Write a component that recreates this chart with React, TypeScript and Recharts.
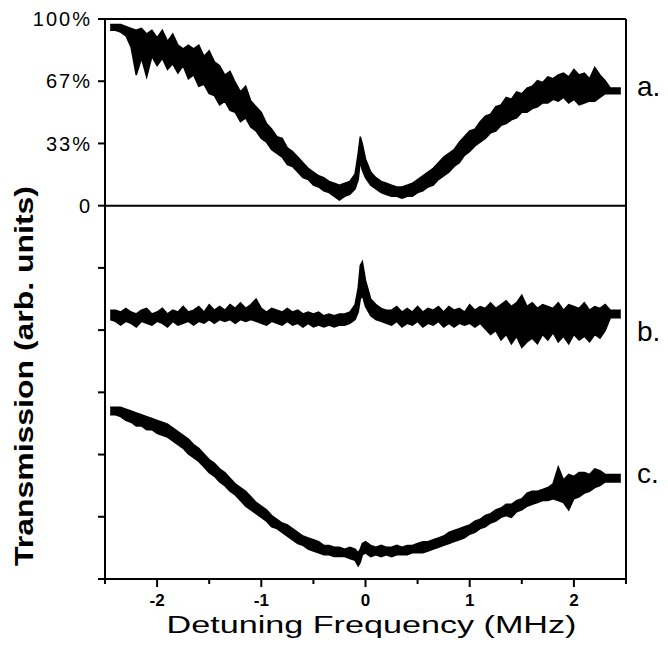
import React from "react";
import { ComposedChart, Area, XAxis, YAxis, ReferenceLine, ReferenceDot, Label } from "recharts";

// detuning grid (MHz), finer around the narrow resonance
const freq = [
  -2.45, -2.4, -2.35, -2.3, -2.25, -2.2, -2.15, -2.1, -2.05, -2, -1.95, -1.9, -1.85, -1.8, -1.75, -1.7, -1.65,
  -1.6, -1.55, -1.5, -1.45, -1.4, -1.35, -1.3, -1.25, -1.2, -1.15, -1.1, -1.05, -1, -0.95, -0.9, -0.85, -0.8,
  -0.75, -0.7, -0.65, -0.6, -0.55, -0.5, -0.45, -0.4, -0.35, -0.3, -0.25, -0.2, -0.15, -0.1, -0.07, -0.05, -0.03,
  0, 0.05, 0.1, 0.15, 0.2, 0.25, 0.3, 0.35, 0.4, 0.45, 0.5, 0.55, 0.6, 0.65, 0.7, 0.75, 0.8, 0.85, 0.9, 0.95, 1,
  1.05, 1.1, 1.15, 1.2, 1.25, 1.3, 1.35, 1.4, 1.45, 1.5, 1.55, 1.6, 1.65, 1.7, 1.75, 1.8, 1.85, 1.9, 1.95, 2,
  2.05, 2.1, 2.15, 2.2, 2.25, 2.3, 2.35, 2.4, 2.45,
];

// trace a. in % transmission: lower / upper edge of the noisy band
const aLow = [
  94, 94, 93, 91, 85, 70, 79, 69, 80, 75, 79, 73, 76, 71, 75, 68, 70, 64, 65, 60, 59, 54, 56, 51, 50, 45, 47, 42,
  40, 36, 34, 30, 28, 26, 22, 21, 18, 15, 14, 11, 10, 8, 7, 5, 3, 5, 6, 9, 14, 24, 19, 15, 11, 9, 7, 6, 5, 5, 4,
  5, 5, 7, 8, 10, 11, 14, 16, 18, 21, 23, 27, 29, 32, 34, 36, 39, 40, 43, 44, 46, 47, 50, 50, 52, 53, 55, 55, 57,
  56, 58, 55, 57, 54, 55, 56, 56, 58, 60, 60, 60, 60,
];
const aHigh = [
  97, 97, 97, 96, 95, 94, 95, 92, 94, 90, 94, 88, 92, 86, 84, 86, 84, 86, 80, 83, 77, 75, 70, 72, 66, 61, 64, 56,
  53, 50, 44, 41, 37, 36, 31, 29, 26, 23, 20, 18, 16, 15, 13, 12, 11, 12, 13, 17, 28, 37, 33, 25, 18, 15, 13, 12,
  11, 10, 10, 11, 12, 14, 16, 18, 20, 23, 26, 28, 30, 34, 37, 40, 41, 45, 48, 49, 53, 54, 58, 57, 61, 60, 63, 64,
  67, 66, 69, 68, 70, 71, 69, 73, 70, 71, 68, 74, 70, 67, 63, 63, 63,
];

// trace b. (arb. units)
const bLow = [
  139, 138, 136, 138, 137, 135, 138, 137, 136, 138, 137, 135, 138, 136, 137, 138, 136, 138, 137, 139, 137, 139,
  138, 139, 137, 139, 138, 139, 138, 137, 136, 138, 137, 136, 138, 136, 137, 135, 137, 135, 136, 135, 136, 135,
  136, 136, 137, 139, 143, 150, 152, 146, 141, 139, 138, 137, 136, 138, 135, 137, 136, 138, 135, 137, 136, 138,
  135, 137, 135, 137, 136, 137, 135, 137, 134, 131, 133, 128, 131, 126, 130, 124, 127, 129, 126, 131, 128, 132,
  127, 130, 126, 131, 128, 130, 127, 131, 129, 133, 140, 140, 140,
];
const bHigh = [
  144, 144, 143, 145, 143, 142, 144, 145, 142, 143, 145, 142, 144, 143, 146, 143, 144, 146, 143, 147, 144, 146,
  144, 147, 145, 148, 145, 147, 150, 145, 143, 145, 144, 143, 145, 143, 144, 142, 143, 142, 143, 141, 142, 141,
  142, 142, 143, 147, 156, 168, 170, 160, 150, 147, 145, 144, 144, 146, 143, 145, 143, 146, 143, 145, 144, 146,
  143, 146, 144, 145, 143, 147, 144, 146, 145, 148, 145, 147, 149, 146, 148, 152, 146, 148, 145, 147, 146, 145,
  148, 144, 147, 146, 145, 148, 144, 146, 145, 147, 144, 144, 144,
];

// trace c. (arb. units)
const cLow = [
  88, 88, 87, 85, 84, 82, 82, 80, 80, 78, 77, 76, 74, 72, 70, 67, 65, 63, 60, 57, 55, 52, 50, 47, 45, 42, 39, 37,
  35, 33, 31, 28, 27, 25, 23, 21, 19, 18, 16, 15, 14, 13, 13, 12, 12, 12, 11, 10, 7, 9, 13, 14, 12, 13, 12, 13,
  12, 13, 13, 13, 14, 14, 14, 15, 16, 17, 18, 19, 20, 21, 22, 24, 25, 27, 28, 30, 31, 33, 34, 33, 36, 37, 39, 40,
  41, 42, 42, 43, 42, 41, 37, 43, 44, 46, 47, 49, 50, 52, 52, 52, 52,
];
const cHigh = [
  92, 92, 92, 91, 90, 89, 88, 87, 86, 85, 84, 83, 81, 79, 77, 75, 72, 70, 67, 64, 62, 59, 57, 54, 51, 49, 47, 44,
  41, 39, 37, 34, 32, 30, 29, 27, 25, 23, 22, 21, 20, 18, 18, 17, 17, 16, 17, 16, 14, 16, 19, 20, 18, 17, 18, 17,
  17, 18, 17, 18, 18, 19, 20, 20, 21, 22, 23, 25, 26, 27, 28, 29, 31, 32, 34, 35, 37, 38, 40, 40, 42, 43, 46, 47,
  47, 48, 49, 51, 60, 53, 56, 55, 57, 57, 56, 59, 58, 56, 56, 56, 56,
];

const xTicks = [-2.5, -2, -1.5, -1, -0.5, 0, 0.5, 1, 1.5, 2, 2.5];
const xMajor = [-2, -1, 0, 1, 2];
const xTickLabels = ["-2", "-1", "0", "1", "2"];

// one shared y scale: bottom panel 0..200, top panel (a.) 200..300
const panelOffset = 200;
const yTicks = [0, 33.33, 66.67, 100, 133.33, 166.67, 200, 233.33, 266.67, 300];
const yTickLabels = ["", "", "", "", "", "", "0", "33%", "67%", "100%"];

const traceNames = ["a.", "b.", "c."];
const traceLabelY = [264, 133, 56.6];

const FONT = '"Liberation Sans", Arial, Helvetica, sans-serif';

const data = freq.map((f, i) => ({
  f,
  a: [aLow[i] + panelOffset, aHigh[i] + panelOffset],
  b: [bLow[i], bHigh[i]],
  c: [cLow[i], cHigh[i]],
}));

function XTick(props: any) {
  const { x, y, payload } = props;
  const i = xMajor.indexOf(payload.value);
  const major = i >= 0;
  return (
    <g>
      <line x1={x} x2={x} y1={y} y2={y + (major ? 8 : 5)} stroke="#000" strokeWidth={2} />
      {major && (
        <text x={x} y={y + 27} textAnchor="middle" fontSize={17} fontWeight="bold" fill="#000" fontFamily={FONT}>
          {xTickLabels[i]}
        </text>
      )}
    </g>
  );
}

export default function App() {
  return (
    <div style={{ margin: -8, width: 668, height: 659, background: "#fff", fontFamily: FONT }}>
      <ComposedChart width={668} height={659} data={data} margin={{ top: 19, right: 42, bottom: 0, left: 0 }}>
        <XAxis
          dataKey="f"
          type="number"
          domain={[-2.5, 2.5]}
          ticks={xTicks}
          interval={0}
          height={80}
          tickSize={0}
          tickMargin={0}
          tickLine={false}
          tick={<XTick />}
          axisLine={{ stroke: "#000", strokeWidth: 2 }}
        >
          <Label
            content={(p: any) => {
              const vb = p.viewBox || { x: 105, y: 579, width: 521 };
              return (
                <text
                  x={vb.x + vb.width / 2 + 6}
                  y={vb.y + 54}
                  textAnchor="middle"
                  fontSize={23}
                  fill="#000"
                  fontFamily={FONT}
                  textLength={410}
                  lengthAdjust="spacingAndGlyphs"
                >
                  Detuning Frequency (MHz)
                </text>
              );
            }}
          />
        </XAxis>
        <YAxis
          type="number"
          domain={[0, 300]}
          allowDataOverflow
          ticks={yTicks}
          interval={0}
          width={105}
          tickSize={7}
          tickMargin={6}
          tickFormatter={(v: number) => yTickLabels[yTicks.indexOf(v)] ?? ""}
          tick={{ fontSize: 20, fill: "#000", fontFamily: FONT, letterSpacing: 2 }}
          tickLine={{ stroke: "#000", strokeWidth: 2 }}
          axisLine={{ stroke: "#000", strokeWidth: 2 }}
        >
          <Label
            content={() => (
              <text
                x={33}
                y={376}
                transform="rotate(-90 33 376)"
                textAnchor="middle"
                fontSize={26}
                fontWeight="bold"
                fill="#000"
                fontFamily={FONT}
                textLength={380}
                lengthAdjust="spacingAndGlyphs"
              >
                Transmission (arb. units)
              </text>
            )}
          />
        </YAxis>

        <ReferenceLine y={300} stroke="#000" strokeWidth={2} />
        <ReferenceLine y={panelOffset} stroke="#000" strokeWidth={2} />
        <ReferenceLine x={2.5} stroke="#000" strokeWidth={2} />

        {["a", "b", "c"].map((k) => (
          <Area
            key={k}
            dataKey={k}
            type="linear"
            stroke="#000"
            strokeWidth={1.5}
            fill="#000"
            fillOpacity={1}
            dot={false}
            activeDot={false}
            isAnimationActive={false}
          />
        ))}

        {traceNames.map((n, i) => (
          <ReferenceDot
            key={n}
            x={2.5}
            y={traceLabelY[i]}
            r={0}
            stroke="none"
            fill="none"
            ifOverflow="visible"
            label={{ value: n, position: "right", offset: 11, fontSize: 28, fill: "#000", fontFamily: FONT }}
          />
        ))}
      </ComposedChart>
    </div>
  );
}
